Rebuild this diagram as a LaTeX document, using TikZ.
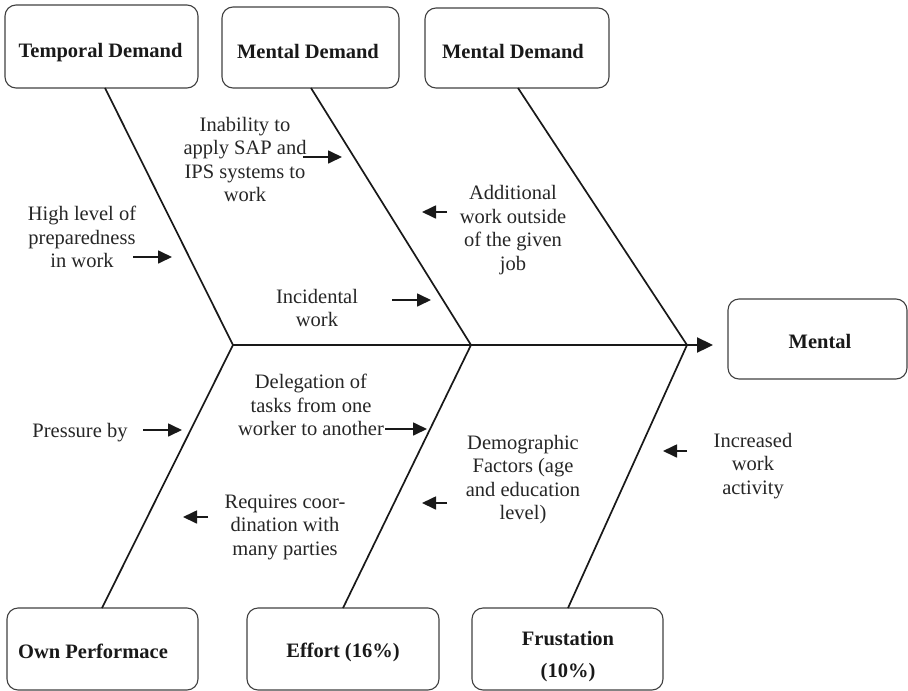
\documentclass[tikz,border=0pt]{standalone}
\usepackage{fontspec}
\setmainfont{Liberation Serif}
\usetikzlibrary{arrows.meta}
\begin{document}
\begin{tikzpicture}[x=1pt,y=-1pt,
  box/.style={draw=black!75, line width=1.1pt, rounded corners=11pt, inner sep=0pt},
  boxtext/.style={font=\fontsize{20.5}{23.5}\selectfont\bfseries, text=black!90, inner sep=0pt, align=center},
  lbl/.style={font=\fontsize{20.5}{23.5}\selectfont, text=black!85, align=center, inner sep=0pt},
  bone/.style={line width=1.7pt, black!90},
  spine/.style={line width=2.3pt, black!90, -{Triangle[length=16pt,width=15pt]}},
  cause/.style={line width=1.7pt, black!90, -{Triangle[length=14pt,width=13pt]}},
]
\useasboundingbox (0,0) rectangle (908,691);

% boxes
\node[box, minimum width=193pt, minimum height=83pt] (temporal) at (101.5,46.5) {};
\node[box, minimum width=177pt, minimum height=81pt] (mentalA) at (310.5,47.5) {};
\node[box, minimum width=184pt, minimum height=80pt] (mentalB) at (517,48) {};
\node[box, minimum width=179pt, minimum height=80pt] (mental) at (817.5,339) {};
\node[box, minimum width=191pt, minimum height=82pt] (own) at (102.5,649) {};
\node[box, minimum width=192pt, minimum height=82pt] (effort) at (343,649) {};
\node[box, minimum width=191pt, minimum height=82pt] (frust) at (567.5,649) {};

\node[boxtext] (temporalT) at (100.5,53) {Temporal Demand};
\node[boxtext] (mentalAT) at (308,51.5) {Mental Demand};
\node[boxtext] (mentalBT) at (513,51.5) {Mental Demand};
\node[boxtext] (mentalT) at (820,341) {Mental};
\node[boxtext] (ownT) at (93,651) {Own Performace};
\node[boxtext] (effortT) at (343,652) {Effort (16\%)};
\node[boxtext, font=\fontsize{20.5}{32}\selectfont\bfseries] (frustT) at (568,657) {Frustation\\(10\%)};

% junctions and bone ends
\coordinate (jA) at (233,345);
\coordinate (jB) at (471,345);
\coordinate (jC) at (687,345);
\coordinate (tip) at (713,345);
\coordinate (tT) at (105,88);
\coordinate (tA) at (311,88);
\coordinate (tB) at (518,88);
\coordinate (bO) at (102,608);
\coordinate (bE) at (343,608);
\coordinate (bF) at (568,608);

\draw[bone] (tT) -- (jA);
\draw[bone] (tA) -- (jB);
\draw[bone] (tB) -- (jC);
\draw[bone] (bO) -- (jA);
\draw[bone] (bE) -- (jB);
\draw[bone] (bF) -- (jC);
\draw[spine] (jA) -- (tip);

% cause labels
\node[lbl] (l1) at (245,159.5) {Inability to\\apply SAP and\\IPS systems to\\work};
\node[lbl] (l2) at (82,237) {High level of\\preparedness\\in work};
\node[lbl] (l3) at (317,308) {Incidental\\work};
\node[lbl] (l4) at (513,230) {Additional\\work outside\\of the given\\job};
\node[lbl] (l5) at (80,432.5) {Pressure by};
\node[lbl] (l6) at (311,405) {Delegation of\\tasks from one\\worker to another};
\node[lbl] (l7) at (285,527) {Requires coor-\\dination with\\many parties};
\node[lbl] (l8) at (523,479.5) {Demographic\\Factors (age\\and education\\level)};
\node[lbl] (l9) at (753,466) {Increased\\work\\activity};

% cause arrows
\coordinate (a1s) at (303,157); \coordinate (a1e) at (342,157);
\coordinate (a2s) at (133,257); \coordinate (a2e) at (172,257);
\coordinate (a3s) at (392,300); \coordinate (a3e) at (431,300);
\coordinate (a4s) at (447,212); \coordinate (a4e) at (422,212);
\coordinate (a5s) at (143,430); \coordinate (a5e) at (182,430);
\coordinate (a6s) at (385,429); \coordinate (a6e) at (427,429);
\coordinate (a7s) at (208,517); \coordinate (a7e) at (183,517);
\coordinate (a8s) at (447,503); \coordinate (a8e) at (422,503);
\coordinate (a9s) at (687,451); \coordinate (a9e) at (663,451);
\foreach \i in {1,...,9} {\draw[cause] (a\i s) -- (a\i e);}
\end{tikzpicture}
\end{document}
